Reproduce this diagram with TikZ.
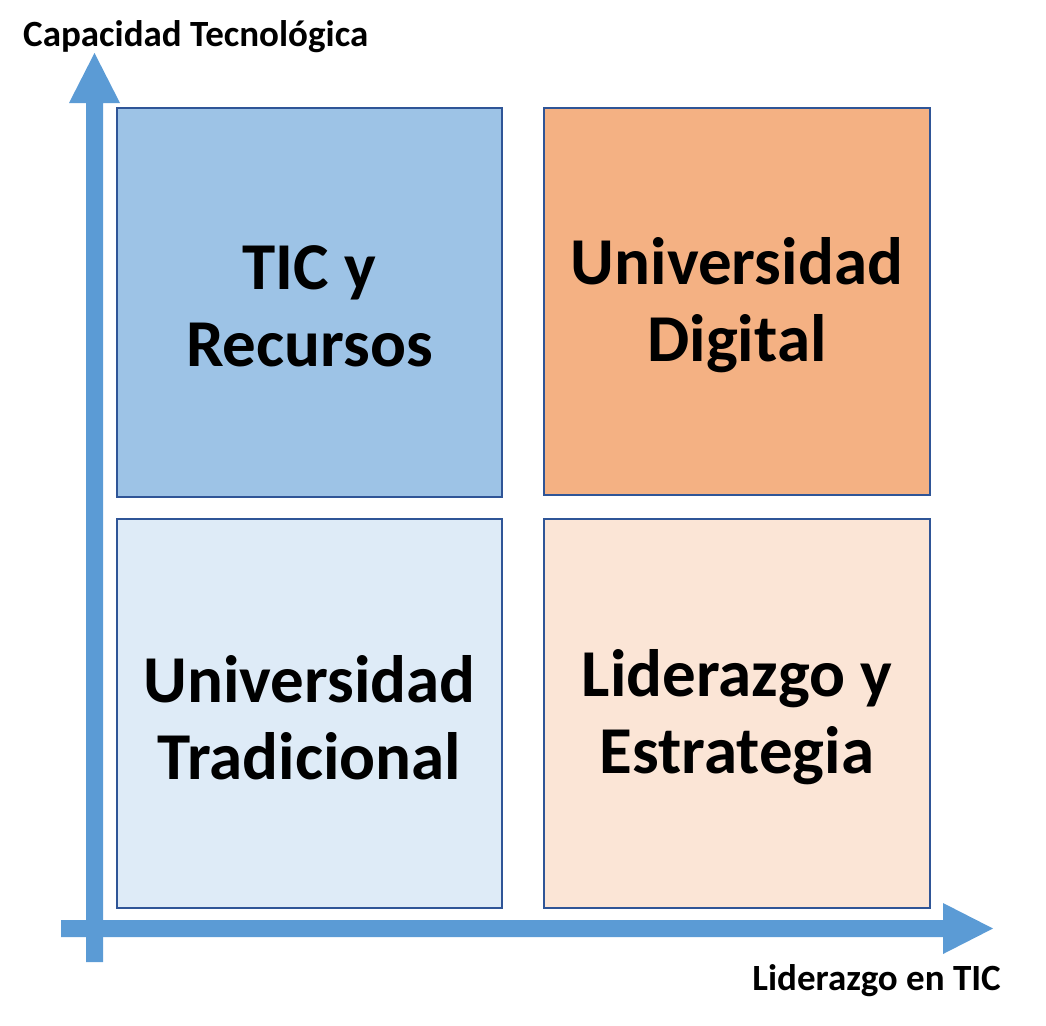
\documentclass[tikz,border=0pt]{standalone}
\usepackage{fontspec}
\setmainfont{Carlito}
\definecolor{axisblue}{HTML}{5B9BD5}
\definecolor{edgeblue}{HTML}{2F5597}
\definecolor{tlfill}{HTML}{9DC3E6}
\definecolor{trfill}{HTML}{F4B183}
\definecolor{blfill}{HTML}{DEEBF7}
\definecolor{brfill}{HTML}{FBE5D6}
\begin{document}
\begin{tikzpicture}[x=1pt,y=-1pt,
  quad/.style={draw=edgeblue,line width=2pt,minimum width=385pt,minimum height=389pt,anchor=north west,inner sep=0pt,
    align=center,font=\fontsize{67}{77}\selectfont\bfseries},
  qtext/.style={align=center,font=\fontsize{67}{77}\selectfont\bfseries,inner sep=0pt},
  axlabel/.style={font=\fontsize{37}{44}\selectfont\bfseries,inner sep=0pt}]
\useasboundingbox (0,0) rectangle (1046,1025);
% vertical axis
\fill[axisblue] (86,962) -- (86,103) -- (69,103) -- (94.5,53) -- (120,103) -- (103,103) -- (103,962) -- cycle;
% horizontal axis
\fill[axisblue] (61,920) -- (943,920) -- (943,903) -- (993,928.5) -- (943,954) -- (943,937) -- (61,937) -- cycle;
\node[quad,fill=tlfill] (tl) at (116,107) {};
\node[quad,fill=trfill,minimum width=386pt,minimum height=387pt] (tr) at (543,107) {};
\node[quad,fill=blfill] (bl) at (116,518) {};
\node[quad,fill=brfill,minimum width=386pt] (br) at (543,518) {};
\node[qtext] (tltext) at ([yshift=-4pt]tl.center) {TIC y\\Recursos};
\node[qtext] (trtext) at ([yshift=-4pt]tr.center) {Universidad\\Digital};
\node[qtext] (bltext) at ([yshift=-4pt]bl.center) {Universidad\\Tradicional};
\node[qtext] (brtext) at ([yshift=-4pt]br.center) {Liderazgo y\\Estrategia};
\node[axlabel,anchor=west] (ylab) at (23,37) {Capacidad Tecnológica};
\node[axlabel,anchor=east] (xlab) at (1001,981) {Liderazgo en TIC};
\end{tikzpicture}
\end{document}
